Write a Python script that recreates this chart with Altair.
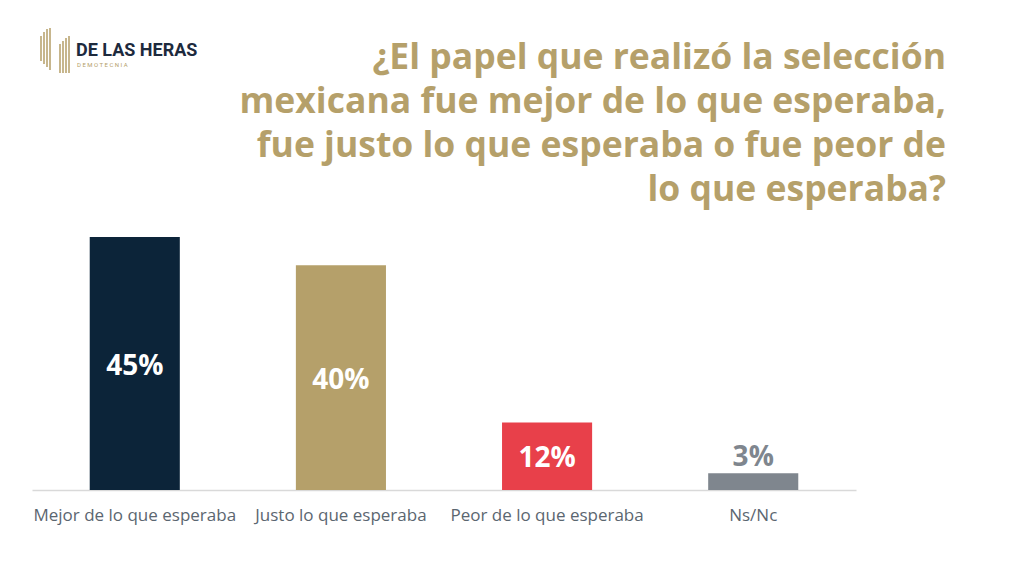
import altair as alt
import pandas as pd

categories = ["Mejor de lo que esperaba", "Justo lo que esperaba", "Peor de lo que esperaba", "Ns/Nc"]
values = [45, 40, 12, 3]
labels = ["45%", "40%", "12%", "3%"]
colors = ["#0c2439", "#b5a06a", "#e8404a", "#7f868e"]
label_colors = ["#ffffff", "#ffffff", "#ffffff", "#7f868e"]

title_lines = [
    "¿El papel que realizó la selección",
    "mexicana fue mejor de lo que esperaba,",
    "fue justo lo que esperaba o fue peor de",
    "lo que esperaba?",
]

df = pd.DataFrame({
    "cat": categories,
    "val": values,
    "label": labels,
    "color": colors,
    "lcolor": label_colors,
})

W, H = 824, 281
FONT = "Open Sans"

x = alt.X("cat:N", sort=categories, title=None,
          scale=alt.Scale(paddingInner=0.563, paddingOuter=0.28),
          axis=alt.Axis(labelAngle=0, ticks=False, labelFontSize=17, labelColor="#5b6670",
                        labelFont=FONT, labelPadding=17, labelLimit=400,
                        domainColor="#d9d9d9", domainWidth=1.5, grid=False))
y = alt.Y("val:Q", scale=alt.Scale(domain=[0, 50]), axis=None)

base = alt.Chart(df)

bars = base.mark_bar().encode(
    x=x, y=y, color=alt.Color("color:N", scale=None)
)

inside = base.transform_filter("datum.val >= 10").transform_calculate(
    mid="datum.val / 2"
).mark_text(font=FONT, fontSize=28, fontWeight="bold", baseline="middle", dy=3).encode(
    x=alt.X("cat:N", sort=categories), y=alt.Y("mid:Q"), text="label:N",
    color=alt.Color("lcolor:N", scale=None)
)

outside = base.transform_filter("datum.val < 10").mark_text(
    font=FONT, fontSize=28, fontWeight="bold", baseline="bottom", dy=-1
).encode(
    x=alt.X("cat:N", sort=categories), y=alt.Y("val:Q"), text="label:N",
    color=alt.Color("lcolor:N", scale=None)
)

# title as a text block
title_df = pd.DataFrame({"t": ["\n".join(title_lines)]})
title = alt.Chart(title_df).mark_text(
    font=FONT, fontSize=35.5, fontWeight="bold", color="#b5a06a", align="right",
    baseline="alphabetic", lineBreak="\n", lineHeight=44
).encode(x=alt.value(914), y=alt.value(-140), text="t:N")

# logo (decorative)
logo_df = pd.DataFrame({"t": ["DE LAS HERAS"]})
logo_text = alt.Chart(logo_df).mark_text(
    font="Roboto", fontSize=18, fontWeight="bold", color="#1d2a3d", align="left", baseline="middle"
).encode(x=alt.value(44), y=alt.value(-158), text="t:N")
sub_df = pd.DataFrame({"t": ["D E M O T E C N I A"]})
logo_sub = alt.Chart(sub_df).mark_text(
    font="Roboto", fontSize=6, color="#b5a06a", align="left", baseline="middle"
).encode(x=alt.value(45), y=alt.value(-144), text="t:N")

stripes = []
for sx, top, bot in [(9, -173, -148), (12, -177, -145), (15, -180, -142), (18, -181, -139),
                     (28, -165, -136), (31, -168, -136), (34, -171, -136), (37, -173, -136)]:
    stripes.append(
        alt.Chart(pd.DataFrame({"a": [0]})).mark_rule(color="#b9a470", strokeWidth=1.6).encode(
            x=alt.value(sx), y=alt.value(top), y2=alt.value(bot)
        )
    )

chart = alt.layer(bars, inside, outside, title, logo_text, logo_sub, *stripes).properties(
    width=W, height=H,
    autosize=alt.AutoSizeParams(type="none"),
    padding={"left": 24, "top": 201, "right": 160, "bottom": 78},
).configure(background="white").configure_view(strokeWidth=0)

chart.save("out.html", embed_options={"renderer": "svg", "actions": False})
